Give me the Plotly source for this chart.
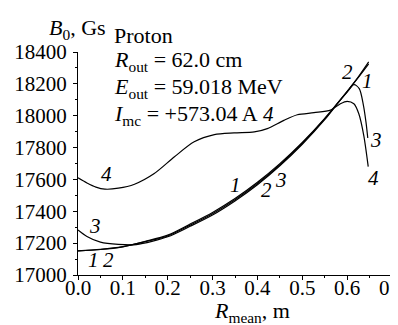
import plotly.graph_objects as go

# ---- data ----
r_12 = [0.0, 0.05, 0.1, 0.15, 0.2, 0.25, 0.3, 0.35, 0.4, 0.45, 0.5, 0.55, 0.6, 0.625, 0.648]
b_1 = [17152, 17161, 17178, 17211, 17250, 17320, 17393, 17480, 17582, 17699, 17832, 17983, 18152, 18240, 18325]
b_2 = [17152, 17160, 17177, 17209, 17245, 17313, 17385, 17472, 17574, 17692, 17827, 17980, 18152, 18244, 18338]

r_3 = [0.0, 0.02, 0.05, 0.09, 0.13, 0.2, 0.25, 0.3, 0.35, 0.4, 0.45, 0.5, 0.55, 0.58, 0.6, 0.615, 0.627, 0.636, 0.642, 0.646]
b_3 = [17283, 17242, 17206, 17192, 17191, 17240, 17306, 17377, 17465, 17567, 17686, 17821, 17975, 18082, 18148, 18195, 18170, 18070, 17960, 17860]

r_4 = [0.0, 0.02, 0.04, 0.06, 0.09, 0.126, 0.17, 0.215, 0.259, 0.304, 0.348, 0.393, 0.422, 0.459, 0.489, 0.526, 0.563, 0.585, 0.6, 0.615, 0.626, 0.637, 0.647]
b_4 = [17610, 17578, 17552, 17539, 17545, 17570, 17637, 17742, 17836, 17881, 17892, 17898, 17919, 17971, 18006, 18019, 18035, 18075, 18090, 18075, 18012, 17877, 17680]

x_ticks = [0.0, 0.1, 0.2, 0.3, 0.4, 0.5, 0.6, 0.7]
y_ticks = [17000, 17200, 17400, 17600, 17800, 18000, 18200, 18400]

FONT = "Liberation Serif, Times New Roman, Times, serif"
FS = 22
TFS = 21

fig = go.Figure()
for r, b in [(r_12, b_1), (r_12, b_2), (r_3, b_3), (r_4, b_4)]:
    fig.add_trace(go.Scatter(x=r, y=b, mode="lines",
                             line=dict(color="black", width=1.2, shape="spline", smoothing=0.8),
                             showlegend=False, hoverinfo="skip"))

W, H = 398, 325
L, R, T, B = 70, 14, 44, 58
pw, ph = W - L - R, H - T - B


def px(xp):
    return (xp - L) / pw


def py(yp):
    return (H - B - yp) / ph


anns = []


def txt(text, xp, yp, xanchor="center", size=FS):
    anns.append(dict(text=text, x=px(xp), y=py(yp), xref="paper", yref="paper",
                     xanchor=xanchor, yanchor="middle", showarrow=False,
                     font=dict(family=FONT, size=size, color="black")))


txt("<i>B</i><sub>0</sub>, Gs", 69, 21)
txt("Proton", 104, 27, "left")
txt("<i>R</i><sub>out</sub> = 62.0 cm", 104, 53, "left")
txt("<i>E</i><sub>out</sub> = 59.018 MeV", 104, 80, "left")
txt("<i>I</i><sub>mc</sub> = +573.04 A", 104, 107, "left")
txt("<i>R</i><sub>mean</sub>, m", 244, 304)

for lab, xp, yp in [("4", 98, 166), ("3", 87, 218), ("1", 85, 252), ("2", 100, 252),
                    ("1", 227, 177), ("2", 258, 182), ("3", 273, 172), ("4", 260, 106),
                    ("2", 339, 64), ("1", 359, 73), ("3", 368, 132), ("4", 365, 170)]:
    txt("<i>" + lab + "</i>", xp, yp, size=21)

axis_common = dict(showline=True, linecolor="black", linewidth=1, showgrid=False,
                   zeroline=False, ticks="outside", ticklen=4, tickwidth=1, tickcolor="black",
                   tickfont=dict(family=FONT, size=TFS, color="black"), mirror=False,
                   automargin=False)

fig.update_xaxes(range=[0, 0.7], tickvals=x_ticks, ticktext=[f"{v:.1f}" for v in x_ticks],
                 minor=dict(ticks="outside", ticklen=2, dtick=0.05, tickcolor="black"),
                 ticklabelstandoff=-10, **axis_common)
fig.update_yaxes(range=[17000, 18400], tickvals=y_ticks, ticktext=[str(v) for v in y_ticks],
                 minor=dict(ticks="outside", ticklen=2, dtick=100, tickcolor="black"),
                 ticklabelstandoff=2, **axis_common)

fig.update_layout(width=W, height=H, margin=dict(l=L, r=R, t=T, b=B),
                  font=dict(family=FONT, size=FS, color="black"),
                  paper_bgcolor="white", plot_bgcolor="white", annotations=anns)

fig.write_html("out.html")
